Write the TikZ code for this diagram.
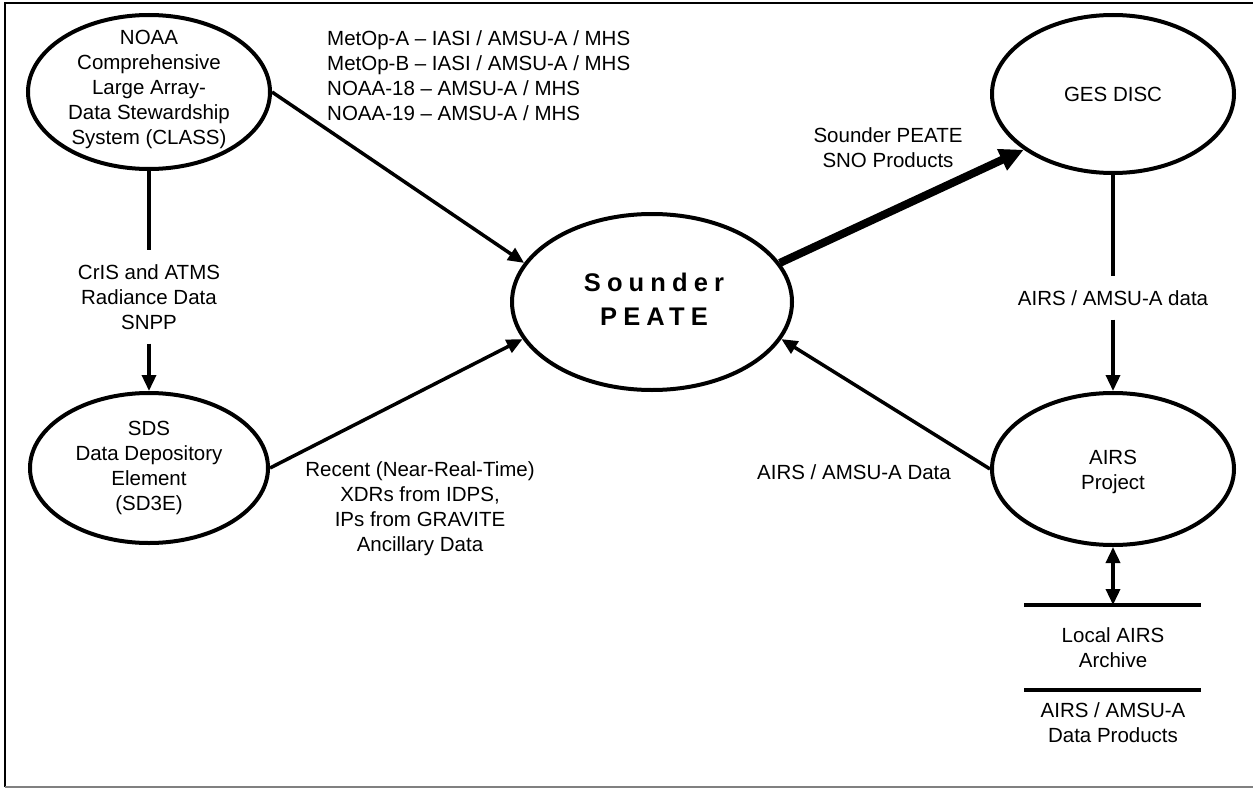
\documentclass[tikz,border=0pt]{standalone}
\usepackage{fontspec}
\setmainfont{Liberation Sans}
\newfontfamily\peatefont{Liberation Sans}[LetterSpace=24]
\usetikzlibrary{arrows.meta,shapes.geometric}

\tikzset{
  proc/.style={ellipse, draw, line width=4pt, inner sep=0pt},
  flow/.style={line width=3.5pt, -{Triangle[length=16pt,width=14pt]}},
  link/.style={line width=3.5pt},
  lbl/.style={align=center, inner sep=0pt},
}

\begin{document}
\begin{tikzpicture}[x=1pt,y=-1pt,font=\fontsize{20.5}{25}\selectfont]
  \useasboundingbox (0,0) rectangle (1253,789);
  % frame
  \draw[line width=2pt] (5,787) -- (5,3) -- (1253,3);
  \draw[gray, line width=1.5pt] (5,787) -- (1253,787);

  % processes
  \node[proc, minimum width=242pt, minimum height=154pt] (class) at (149,92) {};
  \node[lbl] (classtxt) at (149,89) {NOAA\\Comprehensive\\Large Array-\\Data Stewardship\\System (CLASS)};
  \node[proc, minimum width=238pt, minimum height=150pt] (sds) at (149,468) {};
  \node[lbl] (sdstxt) at (sds) {SDS\\Data Depository\\Element\\(SD3E)};
  \node[proc, minimum width=280pt, minimum height=176pt] (peate) at (652,302) {};
  \node[lbl, font=\peatefont\bfseries\fontsize{25.5}{34}\selectfont] (peatetxt) at (654,299) {Sounder\\PEATE};
  \node[proc, minimum width=242pt, minimum height=158pt] (ges) at (1113,94) {};
  \node[lbl] (gestxt) at (ges) {GES DISC};
  \node[proc, minimum width=242pt, minimum height=152pt] (airs) at (1113,469) {};
  \node[lbl] (airstxt) at (1113,472) {AIRS\\Project};

  % data store
  \coordinate (store) at (1113,605);
  \draw[link] (1024,605) -- (1201,605);
  \draw[link] (1024,690) -- (1201,690);
  \node[lbl] (archive) at (1113,648) {Local AIRS\\Archive};
  \node[lbl] (products) at (1113,723) {AIRS / AMSU-A\\Data Products};

  % labels
  \node[lbl, align=left, anchor=west] (metop) at (327,76) {MetOp-A -- IASI / AMSU-A / MHS\\MetOp-B -- IASI / AMSU-A / MHS\\NOAA-18 -- AMSU-A / MHS\\NOAA-19 -- AMSU-A / MHS};
  \node[lbl, inner sep=14pt] (cris) at (149,297) {CrIS and ATMS\\Radiance Data\\SNPP};
  \node[lbl] (recent) at (420,509) {Recent (Near-Real-Time)\\XDRs from IDPS,\\IPs from GRAVITE\\Ancillary Data};
  \node[lbl] (sno) at (888,148) {Sounder PEATE\\SNO Products};
  \node[lbl, inner sep=14pt] (gesdata) at (1113,298) {AIRS / AMSU-A data};
  \node[lbl] (airsdata) at (854,472) {AIRS / AMSU-A Data};

  % flows
  \draw[flow] (class.east) -- (peate.163);
  \draw[flow] (sds.east) -- (peate.196);
  \draw[flow] (airs.west) -- (peate.344);
  \draw[line width=8pt, -{Triangle[length=24pt,width=22pt]}] (peate.17) -- (ges.212);
  \draw[link] (class.south) -- (cris.north);
  \draw[flow] (cris.south) -- (sds.north);
  \draw[link] (ges.south) -- (gesdata.north);
  \draw[flow] (gesdata.south) -- (airs.north);
  \draw[link, {Triangle[length=16pt,width=14pt]}-{Triangle[length=16pt,width=14pt]}] (airs.south) -- (store);
\end{tikzpicture}
\end{document}
